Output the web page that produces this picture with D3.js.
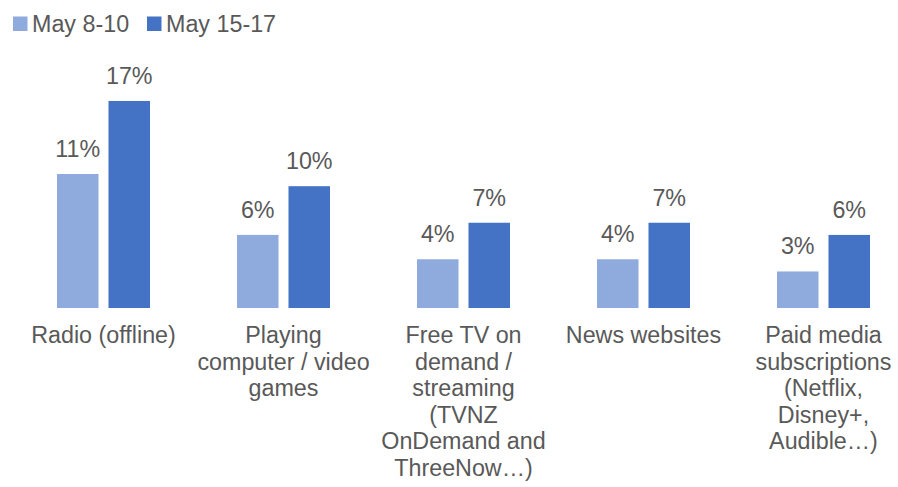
<!DOCTYPE html>
<html>
<head>
<meta charset="utf-8">
<script src="https://cdn.jsdelivr.net/npm/d3@7"></script>
<style>
  html, body { margin: 0; padding: 0; background: #fff; }
  svg { display: block; }
  text { font-family: "Liberation Sans", Arial, sans-serif; fill: #595959; }
</style>
</head>
<body>
<svg id="chart" width="898" height="487"></svg>
<script>
// Activity categories (line breaks mark where each label wraps)
const categories = [
  "Radio (offline)",
  "Playing\ncomputer / video\ngames",
  "Free TV on\ndemand /\nstreaming\n(TVNZ\nOnDemand and\nThreeNow…)",
  "News websites",
  "Paid media\nsubscriptions\n(Netflix,\nDisney+,\nAudible…)"
];
const seriesNames = ["May 8-10", "May 15-17"];
const may8to10 = [11, 6, 4, 4, 3];
const may15to17 = [17, 10, 7, 7, 6];
const seriesColors = ["#8faadc", "#4472c4"];

const svg = d3.select("#chart");
const baseY = 308;
const fontSize = 23.3;

const x = d3.scaleBand().domain(categories).range([13.5, 913.5]).padding(0);
const xSub = d3.scaleBand().domain(seriesNames).range([43.5, 136.5])
  .paddingInner(0.194).paddingOuter(0);
const y = d3.scaleLinear().domain([0, 20]).range([baseY, baseY - 243.6]);

const seriesValues = [may8to10, may15to17];

const groups = svg.append("g").selectAll("g")
  .data(categories)
  .join("g")
  .attr("transform", d => `translate(${x(d)},0)`);

seriesNames.forEach((name, si) => {
  groups.append("rect")
    .attr("x", xSub(name))
    .attr("width", xSub.bandwidth())
    .attr("y", (d, i) => y(seriesValues[si][i]))
    .attr("height", (d, i) => baseY - y(seriesValues[si][i]))
    .attr("fill", seriesColors[si]);

  groups.append("text")
    .attr("x", xSub(name) + xSub.bandwidth() / 2)
    .attr("y", (d, i) => y(seriesValues[si][i]) - 17)
    .attr("text-anchor", "middle")
    .attr("font-size", fontSize)
    .text((d, i) => seriesValues[si][i] + "%");
});

// Category labels below the bars
const xAxis = d3.axisBottom(x).tickSize(0).tickPadding(0).tickFormat("");
const axisG = svg.append("g").attr("transform", `translate(0,${baseY})`).call(xAxis);
axisG.select(".domain").remove();
axisG.selectAll(".tick").each(function(d) {
  const t = d3.select(this).append("text")
    .attr("text-anchor", "middle")
    .attr("font-size", fontSize)
    .attr("y", 35);
  d.split("\n").forEach((line, i) => {
    t.append("tspan").attr("x", 0).attr("dy", i === 0 ? 0 : 26.5).text(line);
  });
});

// Legend
const legendX = [13, 147];
const legend = svg.append("g");
seriesNames.forEach((name, i) => {
  legend.append("rect")
    .attr("x", legendX[i]).attr("y", 16.5)
    .attr("width", 14.5).attr("height", 14.5)
    .attr("fill", seriesColors[i]);
  legend.append("text")
    .attr("x", legendX[i] + 19).attr("y", 31.5)
    .attr("font-size", fontSize)
    .text(name);
});
</script>
</body>
</html>
